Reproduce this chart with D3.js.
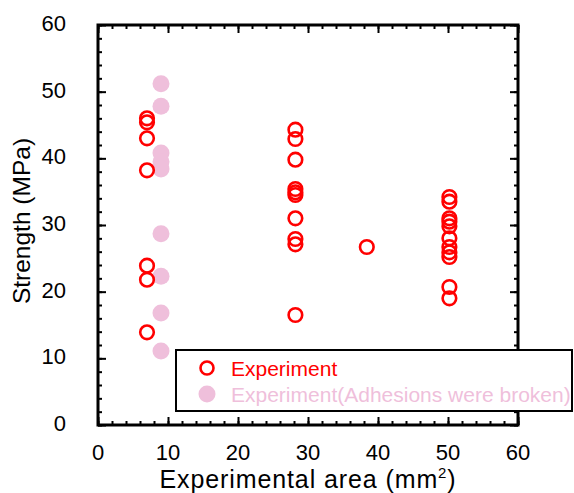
<!DOCTYPE html>
<html>
<head>
<meta charset="utf-8">
<script src="https://d3js.org/d3.v7.min.js"></script>
<style>
  html, body { margin: 0; padding: 0; background: #fff; }
  svg { display: block; font-family: "Liberation Sans", Arial, sans-serif; }
</style>
</head>
<body>
<svg id="chart" width="574" height="493"></svg>
<script>
  // values
  const expArea = [7, 7, 7, 7, 7, 7, 7,
    28.2, 28.2, 28.2, 28.2, 28.2, 28.2, 28.2, 28.2, 28.2, 28.2,
    38.4,
    50.2, 50.2, 50.2, 50.2, 50.2, 50.2, 50.2, 50.2, 50.2, 50.2, 50.2];
  const expStrength = [46.0, 45.4, 43.0, 38.2, 23.9, 21.8, 13.9,
    44.3, 42.9, 39.8, 35.4, 34.9, 34.5, 31.0, 27.9, 27.1, 16.5,
    26.7,
    34.2, 33.5, 31.0, 30.5, 29.8, 28.0, 26.7, 25.9, 25.2, 20.7, 19.0];
  const brokenArea = [9, 9, 9, 9, 9, 9, 9, 9, 9];
  const brokenStrength = [51.2, 47.8, 40.8, 39.5, 38.4, 28.7, 22.3, 16.8, 11.1];
  const xTicks = [0, 10, 20, 30, 40, 50, 60];
  const yTicks = [0, 10, 20, 30, 40, 50, 60];
  const legendLabels = ["Experiment", "Experiment(Adhesions were broken)"];

  const red = "#ff0000", pink = "#efbfdb";
  const svg = d3.select("#chart");
  const m = { left: 98, right: 518, top: 25, bottom: 425 };

  const x = d3.scaleLinear().domain([0, 60]).range([m.left, m.right]);
  const y = d3.scaleLinear().domain([0, 60]).range([m.bottom, m.top]);
  const minor = d3.range(0, 61, 2);

  // ticks on all four sides, pointing inward
  const tickStyle = g => g.call(s => s.select(".domain").remove())
    .selectAll("line").attr("stroke", "#000").attr("stroke-width", 2);

  const sides = [
    [d3.axisTop(x), `translate(0,${m.bottom})`],
    [d3.axisBottom(x), `translate(0,${m.top})`],
    [d3.axisRight(y), `translate(${m.left},0)`],
    [d3.axisLeft(y), `translate(${m.right},0)`]
  ];
  sides.forEach(([axis, tr]) => {
    svg.append("g").attr("transform", tr)
      .call(axis.tickValues(minor).tickSize(4).tickFormat(""))
      .call(tickStyle);
    svg.append("g").attr("transform", tr)
      .call(axis.tickValues(xTicks).tickSize(8).tickFormat(""))
      .call(tickStyle);
  });

  svg.append("rect")
    .attr("x", m.left).attr("y", m.top)
    .attr("width", m.right - m.left).attr("height", m.bottom - m.top)
    .attr("fill", "none").attr("stroke", "#000").attr("stroke-width", 3);

  // tick labels
  svg.append("g").selectAll("text").data(xTicks).join("text")
    .attr("x", d => x(d)).attr("y", m.bottom + 35)
    .attr("text-anchor", "middle").attr("font-size", 22)
    .text(d => d);
  svg.append("g").selectAll("text").data(yTicks).join("text")
    .attr("x", m.left - 32).attr("y", d => y(d) + 6)
    .attr("text-anchor", "end").attr("font-size", 22)
    .text(d => d);

  // axis titles
  const xt = svg.append("text")
    .attr("x", x(30)).attr("y", m.bottom + 63)
    .attr("text-anchor", "middle").attr("font-size", 25)
    .attr("letter-spacing", 0.9);
  xt.append("tspan").text("Experimental area (mm");
  xt.append("tspan").attr("font-size", 15).attr("dy", -10).text("2");
  xt.append("tspan").attr("dy", 10).text(")");

  svg.append("text")
    .attr("transform", `translate(30,${y(30) - 4}) rotate(-90)`)
    .attr("text-anchor", "middle").attr("font-size", 24.5)
    .text("Strength (MPa)");

  // points
  svg.append("g").selectAll("circle").data(brokenArea).join("circle")
    .attr("cx", d => x(d)).attr("cy", (d, i) => y(brokenStrength[i]))
    .attr("r", 8.5).attr("fill", pink);
  svg.append("g").selectAll("circle").data(expArea).join("circle")
    .attr("cx", d => x(d)).attr("cy", (d, i) => y(expStrength[i]))
    .attr("r", 6.8).attr("fill", "none").attr("stroke", red).attr("stroke-width", 2.6);

  // legend
  const lg = svg.append("g");
  lg.append("rect").attr("x", 176).attr("y", 350).attr("width", 396).attr("height", 61)
    .attr("fill", "#fff").attr("stroke", "#000").attr("stroke-width", 2);
  lg.append("circle").attr("cx", 207).attr("cy", 368).attr("r", 6.5)
    .attr("fill", "none").attr("stroke", red).attr("stroke-width", 2.6);
  lg.append("circle").attr("cx", 207).attr("cy", 394).attr("r", 8.5).attr("fill", pink);
  lg.selectAll("text").data(legendLabels).join("text")
    .attr("x", 231).attr("y", (d, i) => 375.5 + i * 26)
    .attr("font-size", 21)
    .attr("fill", (d, i) => i ? pink : red)
    .text(d => d);
</script>
</body>
</html>
